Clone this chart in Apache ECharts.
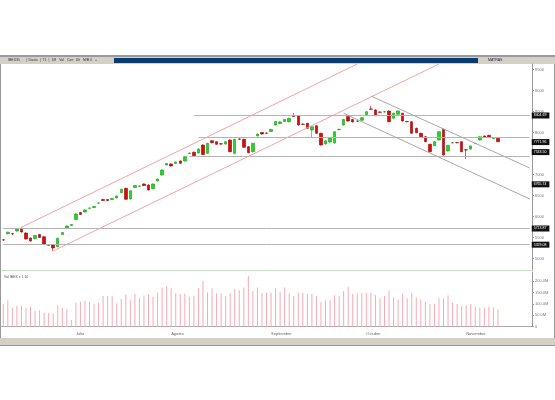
<!DOCTYPE html>
<html>
<head>
<meta charset="utf-8">
<script src="https://cdn.jsdelivr.net/npm/echarts@6/dist/echarts.min.js"></script>
<style>
html, body { margin: 0; padding: 0; background: #fff; }
#chart { width: 555px; height: 400px; }
</style>
</head>
<body>
<div id="chart"></div>
<script>
// daily candles: [open, close, low, high]
const candles = [
  [5445, 5440, 5420, 5465], [5590, 5625, 5575, 5640], [5590, 5583, 5560, 5610], [5655, 5702, 5640, 5715],
  [5726, 5631, 5615, 5740], [5607, 5464, 5450, 5620], [5488, 5417, 5400, 5500], [5476, 5548, 5460, 5560],
  [5571, 5500, 5490, 5585], [5519, 5338, 5325, 5530], [5325, 5318, 5300, 5340], [5321, 5250, 5179, 5335],
  [5281, 5481, 5265, 5495], [5571, 5619, 5560, 5630], [5714, 5774, 5700, 5785], [5786, 5810, 5775, 5820],
  [5929, 6060, 5915, 6075], [6095, 6048, 6035, 6110], [6107, 6155, 6095, 6170], [6195, 6202, 6185, 6215],
  [6214, 6238, 6200, 6250], [6318, 6321, 6305, 6335], [6405, 6381, 6370, 6420], [6405, 6381, 6370, 6415],
  [6405, 6429, 6395, 6440], [6440, 6488, 6430, 6500], [6567, 6648, 6555, 6660], [6671, 6410, 6395, 6685],
  [6417, 6614, 6405, 6625], [6691, 6738, 6680, 6750], [6720, 6726, 6705, 6745], [6774, 6738, 6725, 6790],
  [6750, 6631, 6620, 6765], [6662, 6774, 6650, 6785], [6845, 6893, 6835, 6905], [6988, 7107, 6975, 7120],
  [7226, 7262, 7215, 7275], [7250, 7202, 7190, 7265], [7262, 7298, 7250, 7310], [7321, 7267, 7255, 7335],
  [7321, 7424, 7310, 7440], [7500, 7512, 7490, 7525], [7529, 7448, 7435, 7545], [7512, 7607, 7500, 7620],
  [7702, 7476, 7460, 7715], [7505, 7743, 7490, 7755], [7805, 7757, 7745, 7820], [7781, 7719, 7705, 7795],
  [7730, 7726, 7710, 7745], [7726, 7781, 7715, 7795], [7821, 7543, 7530, 7835], [7505, 7838, 7490, 7850],
  [7845, 7838, 7825, 7860], [7838, 7648, 7635, 7850], [7662, 7519, 7505, 7675], [7543, 7743, 7530, 7755],
  [7917, 7964, 7905, 7975], [8000, 7964, 7950, 8015], [7988, 7981, 7970, 8000], [8024, 8072, 8010, 8085],
  [8179, 8262, 8165, 8275], [8214, 8250, 8200, 8265], [8262, 8310, 8250, 8320], [8257, 8338, 8245, 8350],
  [8405, 8381, 8370, 8464], [8393, 8179, 8165, 8405], [8200, 8195, 8180, 8215], [8219, 8100, 8085, 8230],
  [8060, 8138, 7869, 8150], [8162, 7981, 7970, 8175], [7981, 7702, 7690, 7995], [7726, 7805, 7715, 7815],
  [7774, 7869, 7760, 7880], [7750, 8019, 7735, 8030], [8068, 8076, 8055, 8090], [8179, 8310, 8165, 8325],
  [8381, 8274, 8260, 8395], [8310, 8250, 8240, 8325], [8272, 8267, 8255, 8285], [8291, 8352, 8280, 8365],
  [8429, 8495, 8415, 8510], [8560, 8553, 8540, 8631], [8536, 8400, 8390, 8550], [8488, 8481, 8470, 8500],
  [8488, 8495, 8475, 8510], [8512, 8257, 8245, 8525], [8338, 8457, 8325, 8470], [8433, 8512, 8420, 8525],
  [8457, 8274, 8260, 8470], [8262, 8257, 8245, 8275], [8257, 7981, 7970, 8270], [8100, 7995, 7985, 8115],
  [7981, 7900, 7890, 7995], [7900, 7781, 7770, 7915], [7719, 7543, 7530, 7730], [7686, 7781, 7675, 7795],
  [7821, 8019, 7810, 8030], [8076, 7464, 7450, 8090], [7560, 7691, 7545, 7705], [7750, 7757, 7740, 7770],
  [7760, 7757, 7745, 7770], [7781, 7543, 7530, 7795], [7588, 7583, 7369, 7600], [7607, 7679, 7595, 7690],
  [7735, 7743, 7725, 7755], [7821, 7900, 7810, 7910], [7917, 7886, 7875, 7930], [7933, 7886, 7875, 7945],
  [7855, 7862, 7845, 7875], [7862, 7781, 7770, 7875]
]

// volume per day (millions)
const volumes = [
  100, 117, 84, 91, 91, 84, 88, 69, 73, 62, 62, 59, 95, 84, 76, 29,
  107, 110, 114, 110, 100, 106, 135, 135, 135, 103, 122, 142, 117, 144, 125, 137,
  142, 132, 151, 173, 179, 169, 147, 144, 145, 132, 135, 169, 201, 151, 169, 147,
  147, 135, 147, 166, 161, 173, 223, 157, 173, 150, 150, 150, 169, 154, 173, 147,
  135, 151, 147, 144, 144, 135, 110, 117, 117, 139, 135, 157, 176, 144, 147, 147,
  150, 150, 140, 125, 135, 160, 130, 120, 145, 125, 150, 130, 120, 110, 100, 100,
  125, 125, 139, 106, 100, 91, 95, 100, 88, 84, 81, 88, 85, 76
]

const emptyDays = 7
const priceTicks = [5000, 5500, 6000, 6500, 7000, 7500, 8000, 8500, 9000, 9500]
const volumeTicks = [0, 50, 100, 150, 200]
const monthStart = [16, 37, 59, 80, 102]
const monthNames = ['Julio', 'Agosto', 'Septiembre', 'Octubre', 'Noviembre']

// horizontal support / resistance levels: [value, first day]
const levels = [[8404.69, 42], [7876, 43], [7440, 41], [5713.87, 0], [5329.08, 0]]
// rising channel (pink) and falling channel (grey): [day, value] pairs
const risingChannel = [[[3.8, 5743], [78.4, 9631]], [[11, 5179], [95.7, 9631]]]
const fallingChannel = [[[81, 8869], [116, 7155]], [[74.7, 8457], [116, 6417]]]
// price boxes on the right axis
const priceBoxes = [8404.69, 7771.96, 7533.5, 6765.74, 5713.87, 5329.08]

const days = candles.map((c, i) => String(i + 1))
for (let i = 0; i < emptyDays; i++) days.push('')

const font = 'Liberation Sans'
const myChart = echarts.init(document.getElementById('chart'))

const levelLines = levels.map(l => [
  { coord: [l[1], l[0]] },
  { coord: [days.length - 1, l[0]] }
])
const risingLines = risingChannel.map(p => [
  { coord: p[0], lineStyle: { color: '#f4a3a8' } },
  { coord: p[1] }
])
const fallingLines = fallingChannel.map(p => [
  { coord: p[0], lineStyle: { color: '#a8a8a8' } },
  { coord: p[1] }
])

const option = {
  animation: false,
  backgroundColor: '#fff',
  graphic: [
    // window frame
    { type: 'rect', shape: { x: 0, y: 56, width: 555, height: 289 }, style: { fill: 'none', stroke: '#9a9a9a', lineWidth: 2 } },
    { type: 'rect', shape: { x: 0, y: 57, width: 555, height: 7 }, style: { fill: '#d4d0c8' } },
    { type: 'rect', shape: { x: 114, y: 58, width: 364, height: 5 }, style: { fill: '#0a3d6e' } },
    { type: 'text', left: 8, top: 58, style: { text: 'IBEX35      |  Diario  |  T1  |  1/8   Vol   Cerr  Ult   M/B 0   +', fontSize: 3.5, fill: '#333', fontFamily: font } },
    { type: 'text', left: 488, top: 58, style: { text: 'MATRAS', fontSize: 3.5, fill: '#223', fontFamily: font } },
    { type: 'rect', shape: { x: 0, y: 338, width: 555, height: 7 }, style: { fill: '#d4d0c8' } },
    { type: 'text', left: 4, top: 275, style: { text: 'Vol IBEX x 1:10', fontSize: 3.5, fill: '#555', fontFamily: font } }
  ],
  grid: [
    { left: 1, right: 23, top: 64, height: 206 },
    { left: 1, right: 23, top: 272, height: 54.7 }
  ],
  xAxis: [
    {
      type: 'category', gridIndex: 0, data: days,
      axisLine: { lineStyle: { color: '#bfe3bf' } },
      axisTick: { show: false }, axisLabel: { show: false }, splitLine: { show: false }
    },
    {
      type: 'category', gridIndex: 1, data: days,
      axisLine: { lineStyle: { color: '#aaa' } },
      axisTick: { alignWithLabel: true, length: 4, interval: i => monthStart.includes(i), lineStyle: { color: '#888' } },
      axisLabel: {
        interval: i => monthStart.includes(i),
        formatter: (v, i) => monthNames[monthStart.indexOf(i)],
        fontSize: 4, color: '#666', align: 'left', margin: 5, fontFamily: font
      }
    }
  ],
  yAxis: [
    {
      type: 'value', gridIndex: 0, position: 'right', min: 4726, max: 9631,
      axisLine: { show: true, lineStyle: { color: '#999' } },
      axisTick: { show: true, length: 2, customValues: priceTicks, lineStyle: { color: '#999' } },
      axisLabel: { customValues: priceTicks, formatter: v => String(v), fontSize: 4, color: '#777', margin: 3, fontFamily: font },
      splitLine: { show: false }
    },
    {
      type: 'value', gridIndex: 1, position: 'right', min: 0, max: 241,
      axisLine: { show: true, lineStyle: { color: '#999' } },
      axisTick: { show: true, length: 2, customValues: volumeTicks, lineStyle: { color: '#999' } },
      axisLabel: {
        customValues: volumeTicks,
        formatter: v => (v === 0 ? '0' : v.toFixed(1) + 'M'),
        fontSize: 4, color: '#777', margin: 3, fontFamily: font
      },
      splitLine: { show: false }
    }
  ],
  series: [
    {
      name: 'IBEX35',
      type: 'candlestick',
      xAxisIndex: 0,
      yAxisIndex: 0,
      data: candles,
      barWidth: 3,
      itemStyle: {
        color: '#27d327', color0: '#d01010',
        borderColor: '#14a014', borderColor0: '#a00000', borderWidth: 0.6
      },
      markLine: {
        silent: true,
        symbol: 'none',
        label: { show: false },
        lineStyle: { color: '#b4b4b4', width: 1, type: 'solid' },
        data: levelLines.concat(risingLines, fallingLines)
      },
      markPoint: {
        silent: true,
        symbol: 'rect',
        symbolSize: 0,
        label: {
          show: true, position: 'right', distance: 2,
          formatter: p => p.value.toFixed(2),
          backgroundColor: '#111', color: '#fff', fontSize: 3.5, padding: [1, 3, 1, 2], fontFamily: font
        },
        data: priceBoxes.map(v => ({ coord: [days.length - 1, v], value: v }))
      }
    },
    {
      name: 'Volumen',
      type: 'bar',
      xAxisIndex: 1,
      yAxisIndex: 1,
      data: volumes,
      barWidth: 1,
      itemStyle: { color: '#f6aab4' }
    }
  ]
}

myChart.setOption(option)
</script>
</body>
</html>
